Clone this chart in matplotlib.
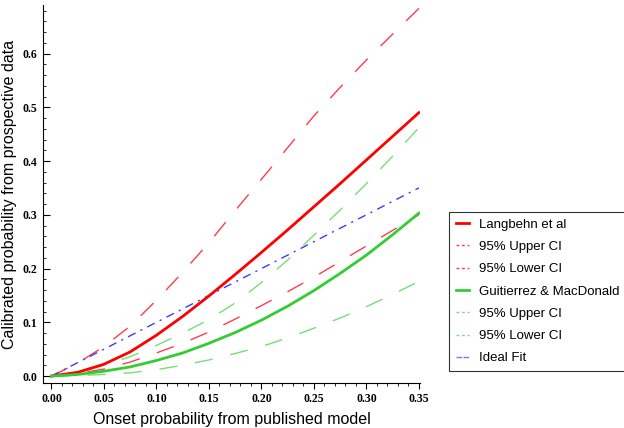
import matplotlib
matplotlib.use("Agg")
import matplotlib.pyplot as plt
from matplotlib.lines import Line2D
from matplotlib.ticker import MultipleLocator

# onset probability (published model)
x = [0.0, 0.025, 0.05, 0.075, 0.10, 0.125, 0.15, 0.175,
     0.20, 0.225, 0.25, 0.275, 0.30, 0.325, 0.35]

langbehn = [0.0, 0.007, 0.022, 0.045, 0.076, 0.111, 0.149, 0.189,
            0.230, 0.272, 0.315, 0.358, 0.402, 0.446, 0.490]
lang_upper = [0.0, 0.024, 0.055, 0.093, 0.141, 0.193, 0.248, 0.308,
              0.366, 0.425, 0.484, 0.537, 0.588, 0.636, 0.684]
lang_lower = [0.0, 0.005, 0.013, 0.026, 0.043, 0.061, 0.082, 0.106,
              0.131, 0.157, 0.184, 0.213, 0.242, 0.271, 0.300]

guit = [0.0, 0.003, 0.009, 0.017, 0.029, 0.043, 0.061, 0.081,
        0.104, 0.130, 0.159, 0.191, 0.225, 0.263, 0.303]
guit_upper = [0.0, 0.007, 0.020, 0.036, 0.057, 0.080, 0.105, 0.136,
              0.174, 0.216, 0.262, 0.309, 0.358, 0.409, 0.462]
guit_lower = [0.0, 0.001, 0.003, 0.006, 0.012, 0.020, 0.030, 0.042,
              0.055, 0.071, 0.089, 0.108, 0.129, 0.152, 0.176]

ideal = [0.0, 0.025, 0.05, 0.075, 0.10, 0.125, 0.15, 0.175,
         0.20, 0.225, 0.25, 0.275, 0.30, 0.325, 0.35]

xticks = [0.0, 0.05, 0.10, 0.15, 0.20, 0.25, 0.30, 0.35]
yticks = [0.0, 0.1, 0.2, 0.3, 0.4, 0.5, 0.6]

labels = ["Langbehn et al", "95% Upper CI", "95% Lower CI",
          "Guitierrez & MacDonald", "95% Upper CI", "95% Lower CI", "Ideal Fit"]

red = "#ff0000"
red_d = "#ff3b4e"
green = "#33cc33"
green_d = "#77dd77"
blue = "#3b3bff"

fig = plt.figure(figsize=(6.24, 4.28), dpi=100)
ax = fig.add_axes([0.069, 0.105, 0.604, 0.883])

ax.plot(x, lang_upper, color=red_d, lw=1.0, dashes=(13, 13))
ax.plot(x, lang_lower, color=red_d, lw=1.0, dashes=(13, 13))
ax.plot(x, guit_upper, color=green_d, lw=1.0, dashes=(13, 13))
ax.plot(x, guit_lower, color=green_d, lw=1.0, dashes=(13, 13))
ax.plot(x, ideal, color=blue, lw=1.0, dashes=(6, 4, 1.5, 4))
ax.plot(x, langbehn, color=red, lw=2.0)
ax.plot(x, guit, color=green, lw=2.0)

ax.set_xlim(-0.008, 0.351)
ax.set_ylim(-0.013, 0.69)

for s in ["top", "right"]:
    ax.spines[s].set_visible(False)
ax.spines["left"].set_linewidth(0.8)
ax.spines["bottom"].set_linewidth(0.8)

ax.set_xticks(xticks)
ax.set_xticklabels(["%.2f" % v for v in xticks])
ax.set_yticks(yticks)
ax.set_yticklabels(["%.1f" % v for v in yticks])
ax.xaxis.set_minor_locator(MultipleLocator(0.01))
ax.yaxis.set_minor_locator(MultipleLocator(0.02))
ax.tick_params(axis="x", which="major", direction="out", length=4, width=0.8,
               labelsize=8.5, pad=3)
ax.tick_params(axis="x", which="minor", direction="out", length=2.5, width=0.6)
ax.tick_params(axis="y", which="major", direction="in", length=5, width=0.8,
               labelsize=8.5, pad=4)
ax.tick_params(axis="y", which="minor", direction="in", length=2.5, width=0.6)
for lab in ax.get_xticklabels() + ax.get_yticklabels():
    lab.set_family("Liberation Serif")
    lab.set_weight("bold")

ax.set_xlabel("Onset probability from published model", fontsize=11.5,
              family="Liberation Sans", labelpad=5)
ax.set_ylabel("Calibrated probability from prospective data", fontsize=11.5,
              family="Liberation Sans", labelpad=4)

handles = [
    Line2D([], [], color=red, lw=2.0),
    Line2D([], [], color=red_d, lw=1.0, dashes=(2, 2)),
    Line2D([], [], color=red_d, lw=1.0, dashes=(2, 2)),
    Line2D([], [], color=green, lw=2.0),
    Line2D([], [], color=green_d, lw=1.0, dashes=(2, 2)),
    Line2D([], [], color=green_d, lw=1.0, dashes=(2, 2)),
    Line2D([], [], color="#7777ff", lw=1.0, dashes=(4, 1)),
]
leg = fig.legend(handles, labels, loc="upper left",
                 bbox_to_anchor=(449 / 624, 1 - 212 / 428),
                 frameon=True, fancybox=False, edgecolor="black",
                 prop={"family": "Liberation Sans", "size": 9.5},
                 handlelength=1.0, handletextpad=0.8, labelspacing=0.76,
                 borderpad=0.5, borderaxespad=0)
leg.get_frame().set_linewidth(0.8)

fig.savefig("out.png", dpi=100)
